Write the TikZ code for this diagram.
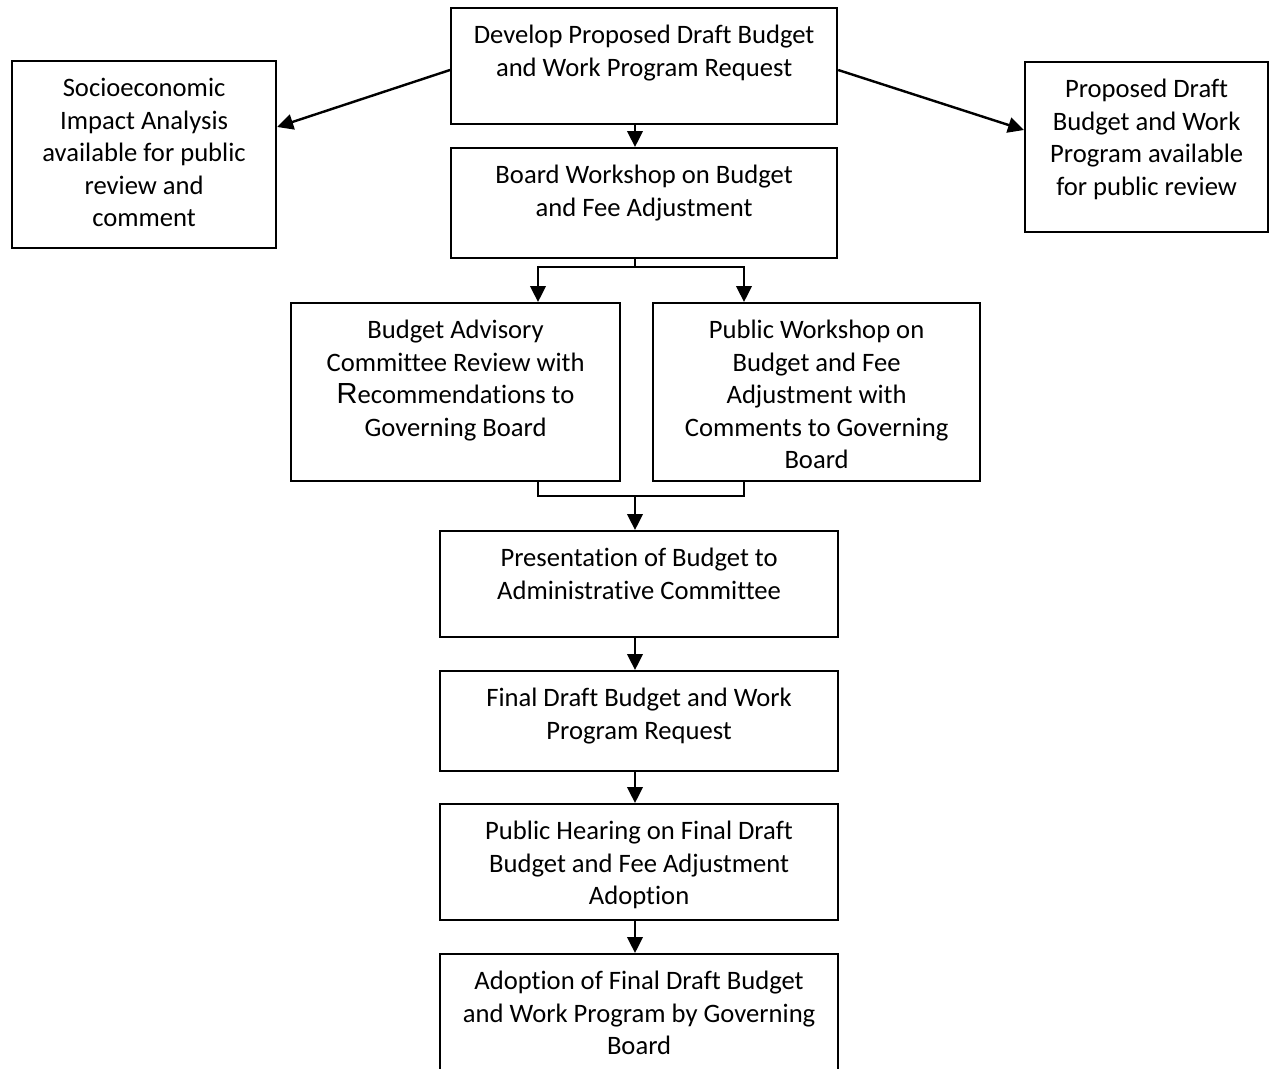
\documentclass[tikz,border=0pt]{standalone}
\usepackage{fontspec}
\setmainfont[RawFeature={-liga;-clig}]{Carlito}
\newfontfamily\capfont{Liberation Sans}
\usetikzlibrary{arrows.meta,calc}
% one drawing unit
\newcommand\pxu{0.4132pt}
% \mkbox{name}{left}{top}{right}{bottom}
\newcommand\mkbox[5]{%
  \node[box,minimum width={(#4-#2)*\pxu},minimum height={(#5-#3)*\pxu}] (#1) at (#2,#3) {};}
\begin{document}
\begin{tikzpicture}[x=0.4132pt,y=-0.4132pt,
  box/.style={draw,line width=0.9pt,rectangle,inner sep=0pt,anchor=north west},
  lbl/.style={inner sep=0pt,anchor=north,align=center,font=\fontsize{11}{13.43}\selectfont},
  link/.style={line width=1pt},
  arr/.style={link,-{Triangle[length=6.6pt,width=6.4pt]}}]
\useasboundingbox (0,0) rectangle (1270,1068);
\clip (0,0) rectangle (1270,1068);

% boxes
\mkbox{dev}{450}{7}{836}{123}
\mkbox{soc}{11}{60}{275}{247}
\mkbox{prop}{1024}{61}{1267}{231}
\mkbox{board}{450}{147}{836}{257}
\mkbox{bac}{290}{302}{619}{480}
\mkbox{pw}{652}{302}{979}{480}
\mkbox{pres}{439}{530}{837}{636}
\mkbox{final}{439}{670}{837}{770}
\mkbox{hear}{439}{803}{837}{919}
\mkbox{adopt}{439}{953}{837}{1100}

% box texts
\node[lbl] (devT) at ($(dev.north)+(0,18)$) {Develop Proposed Draft Budget\\and Work Program Request};
\node[lbl] (socT) at ($(soc.north)+(0,18)$) {Socioeconomic\\Impact Analysis\\available for public\\review and\\comment};
\node[lbl] (propT) at ($(prop.north)+(0,18)$) {Proposed Draft\\Budget and Work\\Program available\\for public review};
\node[lbl] (boardT) at ($(board.north)+(0,18)$) {Board Workshop on Budget\\and Fee Adjustment};
\node[lbl] (bacT) at ($(bac.north)+(0,18)$) {Budget Advisory\\Committee Review with\\{\capfont\fontsize{12}{13.43}\selectfont R}ecommendations to\\Governing Board};
\node[lbl] (pwT) at ($(pw.north)+(0,18)$) {Public Workshop on\\Budget and Fee\\Adjustment with\\Comments to Governing\\Board};
\node[lbl] (presT) at ($(pres.north)+(0,18)$) {Presentation of Budget to\\Administrative Committee};
\node[lbl] (finalT) at ($(final.north)+(0,18)$) {Final Draft Budget and Work\\Program Request};
\node[lbl] (hearT) at ($(hear.north)+(0,18)$) {Public Hearing on Final Draft\\Budget and Fee Adjustment\\Adoption};
\node[lbl] (adoptT) at ($(adopt.north)+(0,18)$) {Adoption of Final Draft Budget\\and Work Program by Governing\\Board};

% junction points
\coordinate (split) at (635,267);
\coordinate (merge) at (635,496);

% connectors
\draw[arr] ($(dev.north west)+(0,63)$) -- ($(soc.north east)+(0,67)$);
\draw[arr] ($(dev.north east)+(0,63)$) -- ($(prop.north west)+(0,69)$);
\draw[arr] (dev.south -| split) -- (board.north -| split);
\draw[link] (board.south -| split) -- (split);
\draw[arr] (split) -| (bac.north -| 538,0);
\draw[arr] (split) -| (pw.north -| 744,0);
\draw[link] (bac.south -| 538,0) |- (merge);
\draw[link] (pw.south -| 744,0) |- (merge);
\draw[arr] (merge) -- (pres.north -| merge);
\draw[arr] (pres.south -| merge) -- (final.north -| merge);
\draw[arr] (final.south -| merge) -- (hear.north -| merge);
\draw[arr] (hear.south -| merge) -- (adopt.north -| merge);
\end{tikzpicture}
\end{document}
